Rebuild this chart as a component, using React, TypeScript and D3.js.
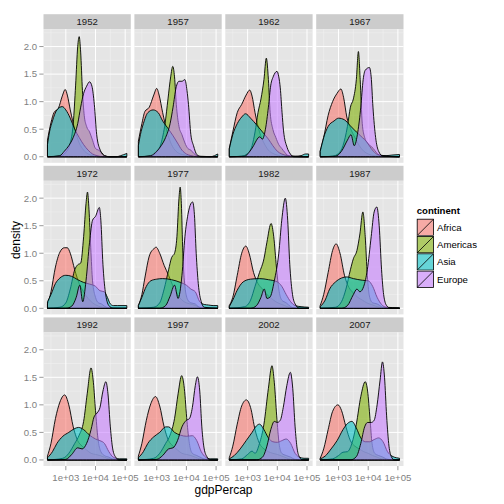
import React from "react";
import * as d3 from "d3";

// ---- data (x = log10(gdpPercap), y = density) ----
const years = ["1952", "1957", "1962", "1967", "1972", "1977", "1982", "1987", "1992", "1997", "2002", "2007"];
const continents = ["Africa", "Americas", "Asia", "Europe"];
const continentColors = ["#F8766D", "#7CAE00", "#00BFC4", "#C77CFF"];
const yTicks = [0, 0.5, 1, 1.5, 2];
const yTickLabels = ["0.0", "0.5", "1.0", "1.5", "2.0"];
const yMinor = [0.25, 0.75, 1.25, 1.75, 2.25];
const xTicks = [1e3, 1e4, 1e5];
const xTickLabels = ["1e+03", "1e+04", "1e+05"];
const xMinor = [316.23, 3162.3, 31623];

const africaCurves: number[][][] = [
  [[2.382,0.3],[2.5,0.62],[2.6,0.8],[2.75,0.88],[2.88,1.1],[2.98,1.22],[3.05,1.12],[3.15,0.85],[3.3,0.5],[3.45,0.25],[3.6,0.12],[3.75,0.05],[3.9,0.02],[4.1,0],[5.055,0]],
  [[2.382,0.28],[2.5,0.6],[2.6,0.82],[2.75,0.9],[2.9,1.12],[3.0,1.24],[3.08,1.12],[3.2,0.8],[3.35,0.45],[3.5,0.22],[3.65,0.1],[3.8,0.05],[3.95,0.03],[4.1,0.01],[5.055,0]],
  [[2.382,0.15],[2.5,0.45],[2.65,0.8],[2.8,0.95],[2.95,1.12],[3.07,1.21],[3.15,1.1],[3.25,0.8],[3.4,0.45],[3.55,0.25],[3.7,0.12],[3.85,0.06],[4.0,0.03],[4.2,0.01],[5.055,0]],
  [[2.382,0.1],[2.5,0.35],[2.65,0.75],[2.8,1.0],[2.95,1.15],[3.08,1.23],[3.17,1.08],[3.28,0.72],[3.4,0.52],[3.55,0.35],[3.7,0.2],[3.85,0.1],[4.0,0.05],[4.2,0.02],[5.055,0]],
  [[2.382,0.08],[2.5,0.3],[2.65,0.75],[2.8,1.02],[2.95,1.1],[3.05,1.1],[3.15,1.0],[3.3,0.7],[3.45,0.45],[3.6,0.3],[3.75,0.18],[3.9,0.1],[4.1,0.04],[4.4,0.01],[5.055,0]],
  [[2.382,0.05],[2.5,0.25],[2.6,0.55],[2.75,0.95],[2.9,1.08],[2.98,1.11],[3.1,1.0],[3.25,0.78],[3.4,0.6],[3.55,0.4],[3.7,0.25],[3.85,0.15],[4.0,0.1],[4.2,0.07],[4.35,0.04],[4.5,0.01],[5.055,0]],
  [[2.382,0.05],[2.5,0.2],[2.65,0.6],[2.8,1.0],[2.94,1.13],[3.05,1.0],[3.2,0.65],[3.35,0.45],[3.5,0.35],[3.65,0.25],[3.8,0.18],[3.95,0.12],[4.1,0.08],[4.25,0.05],[4.4,0.02],[5.055,0]],
  [[2.382,0.05],[2.5,0.25],[2.65,0.65],[2.8,1.05],[2.92,1.17],[3.05,1.0],[3.2,0.6],[3.35,0.38],[3.5,0.28],[3.65,0.2],[3.8,0.15],[3.95,0.1],[4.1,0.07],[4.25,0.04],[4.4,0.02],[5.055,0]],
  [[2.382,0.07],[2.5,0.3],[2.65,0.75],[2.8,1.05],[2.96,1.18],[3.1,1.0],[3.25,0.6],[3.4,0.35],[3.55,0.25],[3.7,0.18],[3.85,0.12],[4.0,0.1],[4.15,0.08],[4.3,0.05],[4.45,0.02],[5.055,0]],
  [[2.382,0.07],[2.5,0.3],[2.65,0.72],[2.8,1.02],[2.96,1.15],[3.1,0.98],[3.25,0.6],[3.4,0.35],[3.55,0.25],[3.7,0.18],[3.85,0.12],[4.0,0.1],[4.15,0.08],[4.3,0.05],[4.45,0.02],[5.055,0]],
  [[2.382,0.04],[2.5,0.25],[2.65,0.65],[2.8,0.98],[2.96,1.09],[3.1,0.95],[3.25,0.55],[3.4,0.3],[3.55,0.2],[3.7,0.15],[3.85,0.12],[4.0,0.1],[4.15,0.07],[4.3,0.04],[4.45,0.01],[5.055,0]],
  [[2.382,0.03],[2.5,0.2],[2.65,0.55],[2.8,0.88],[2.98,1.0],[3.1,0.9],[3.25,0.6],[3.4,0.35],[3.55,0.25],[3.7,0.2],[3.85,0.15],[4.0,0.12],[4.15,0.08],[4.3,0.05],[4.45,0.02],[5.055,0]],
];

const americasCurves: number[][][] = [
  [[2.382,0],[2.8,0.01],[3.0,0.08],[3.15,0.25],[3.25,0.6],[3.33,1.3],[3.4,2.0],[3.45,2.18],[3.5,1.9],[3.56,1.2],[3.62,0.75],[3.7,0.55],[3.8,0.45],[3.9,0.3],[4.0,0.15],[4.1,0.12],[4.2,0.08],[4.3,0.02],[4.5,0],[5.055,0]],
  [[2.382,0],[2.8,0.01],[3.0,0.08],[3.15,0.25],[3.28,0.6],[3.38,1.05],[3.47,1.45],[3.54,1.64],[3.6,1.45],[3.66,0.95],[3.75,0.55],[3.85,0.4],[3.95,0.25],[4.05,0.15],[4.15,0.12],[4.25,0.06],[4.4,0.01],[5.055,0]],
  [[2.382,0],[2.8,0.01],[3.0,0.06],[3.15,0.2],[3.25,0.45],[3.35,0.8],[3.45,1.05],[3.55,1.4],[3.63,1.79],[3.7,1.4],[3.76,0.8],[3.85,0.5],[3.95,0.35],[4.05,0.22],[4.15,0.15],[4.25,0.08],[4.4,0.01],[5.055,0]],
  [[2.382,0],[2.8,0.01],[3.0,0.06],[3.15,0.2],[3.3,0.55],[3.4,0.9],[3.5,1.05],[3.6,1.4],[3.67,1.91],[3.73,1.4],[3.8,0.6],[3.88,0.35],[3.97,0.25],[4.07,0.2],[4.17,0.15],[4.27,0.08],[4.4,0.02],[5.055,0]],
  [[2.382,0],[2.8,0.02],[3.0,0.1],[3.15,0.35],[3.3,0.7],[3.4,0.79],[3.5,0.82],[3.6,1.3],[3.68,1.9],[3.73,2.11],[3.78,1.8],[3.84,1.1],[3.9,0.5],[4.0,0.2],[4.1,0.1],[4.2,0.08],[4.3,0.04],[4.5,0],[5.055,0]],
  [[2.382,0],[2.9,0.02],[3.1,0.1],[3.25,0.35],[3.4,0.7],[3.5,0.92],[3.6,1.0],[3.68,1.3],[3.75,2.0],[3.79,2.2],[3.83,1.9],[3.88,1.0],[3.95,0.4],[4.05,0.15],[4.15,0.1],[4.3,0.08],[4.4,0.03],[4.6,0],[5.055,0]],
  [[2.382,0],[2.9,0.03],[3.1,0.15],[3.25,0.4],[3.4,0.65],[3.55,0.9],[3.65,1.2],[3.79,1.54],[3.88,1.3],[3.97,0.75],[4.05,0.35],[4.15,0.15],[4.3,0.1],[4.45,0.03],[4.6,0],[5.055,0]],
  [[2.382,0],[2.9,0.02],[3.1,0.12],[3.25,0.35],[3.4,0.7],[3.5,0.9],[3.62,1.05],[3.72,1.35],[3.82,1.75],[3.9,1.3],[3.97,0.6],[4.05,0.2],[4.15,0.1],[4.3,0.08],[4.45,0.03],[4.6,0],[5.055,0]],
  [[2.382,0],[2.9,0.03],[3.1,0.12],[3.3,0.3],[3.45,0.45],[3.6,0.7],[3.72,1.2],[3.85,1.67],[3.93,1.4],[4.0,0.9],[4.08,0.4],[4.18,0.15],[4.3,0.08],[4.45,0.05],[4.6,0.01],[5.055,0]],
  [[2.382,0],[2.9,0.03],[3.1,0.12],[3.3,0.3],[3.45,0.45],[3.6,0.75],[3.72,1.2],[3.84,1.53],[3.93,1.3],[4.02,0.7],[4.1,0.3],[4.2,0.12],[4.35,0.08],[4.5,0.04],[4.65,0.01],[5.055,0]],
  [[2.382,0],[2.8,0.02],[3.0,0.1],[3.15,0.16],[3.25,0.12],[3.4,0.3],[3.55,0.65],[3.7,1.3],[3.82,1.71],[3.9,1.4],[3.98,0.8],[4.06,0.3],[4.15,0.12],[4.3,0.08],[4.45,0.05],[4.6,0.01],[5.055,0]],
  [[2.382,0],[2.8,0.02],[3.0,0.08],[3.15,0.14],[3.3,0.15],[3.45,0.3],[3.6,0.65],[3.75,1.15],[3.9,1.42],[3.98,1.25],[4.06,0.75],[4.13,0.3],[4.22,0.12],[4.35,0.08],[4.5,0.05],[4.65,0.01],[5.055,0]],
];

const asiaCurves: number[][][] = [
  [[2.382,0.22],[2.45,0.45],[2.55,0.65],[2.7,0.85],[2.88,0.91],[3.0,0.85],[3.15,0.7],[3.3,0.5],[3.45,0.35],[3.6,0.22],[3.75,0.12],[3.9,0.05],[4.05,0.02],[4.3,0],[4.7,0],[4.85,0.02],[5.055,0.06]],
  [[2.382,0.2],[2.45,0.4],[2.55,0.6],[2.7,0.8],[2.88,0.85],[3.05,0.8],[3.2,0.65],[3.4,0.5],[3.55,0.38],[3.7,0.25],[3.85,0.12],[4.0,0.05],[4.15,0.02],[4.4,0],[4.8,0],[4.95,0.02],[5.055,0.05]],
  [[2.382,0.14],[2.5,0.4],[2.65,0.6],[2.8,0.72],[2.93,0.78],[3.1,0.7],[3.3,0.58],[3.5,0.45],[3.7,0.32],[3.85,0.2],[4.0,0.1],[4.15,0.05],[4.35,0.02],[4.6,0.01],[4.8,0.02],[4.95,0.05],[5.055,0.05]],
  [[2.382,0.1],[2.5,0.35],[2.65,0.55],[2.85,0.65],[3.0,0.7],[3.2,0.67],[3.4,0.56],[3.6,0.45],[3.8,0.35],[3.95,0.27],[4.1,0.15],[4.25,0.06],[4.4,0.03],[4.6,0.02],[4.8,0.03],[5.055,0.04]],
  [[2.382,0.12],[2.5,0.25],[2.65,0.45],[2.8,0.55],[3.0,0.6],[3.2,0.58],[3.4,0.52],[3.6,0.47],[3.8,0.44],[4.0,0.4],[4.15,0.32],[4.3,0.3],[4.4,0.2],[4.5,0.08],[4.6,0.05],[4.75,0.05],[5.055,0.05]],
  [[2.382,0.05],[2.5,0.2],[2.65,0.4],[2.8,0.5],[3.0,0.53],[3.2,0.54],[3.5,0.52],[3.8,0.47],[4.0,0.42],[4.15,0.35],[4.3,0.3],[4.45,0.12],[4.6,0.07],[4.75,0.06],[4.9,0.05],[5.055,0.05]],
  [[2.382,0.03],[2.5,0.15],[2.65,0.33],[2.85,0.48],[3.1,0.53],[3.4,0.54],[3.7,0.52],[4.0,0.48],[4.15,0.4],[4.3,0.25],[4.45,0.12],[4.6,0.05],[4.8,0.03],[5.055,0.02]],
  [[2.382,0.03],[2.55,0.15],[2.7,0.35],[2.9,0.48],[3.1,0.55],[3.28,0.57],[3.5,0.54],[3.8,0.51],[4.0,0.5],[4.15,0.4],[4.3,0.2],[4.45,0.07],[4.6,0.02],[5.055,0.01]],
  [[2.382,0.04],[2.55,0.15],[2.7,0.3],[2.9,0.43],[3.1,0.5],[3.3,0.57],[3.43,0.59],[3.6,0.55],[3.8,0.45],[4.0,0.38],[4.15,0.35],[4.3,0.3],[4.45,0.15],[4.6,0.05],[4.8,0.02],[5.055,0.02]],
  [[2.382,0.04],[2.55,0.15],[2.7,0.3],[2.9,0.42],[3.1,0.5],[3.3,0.6],[3.4,0.6],[3.6,0.5],[3.8,0.45],[4.0,0.43],[4.2,0.44],[4.35,0.35],[4.5,0.15],[4.65,0.05],[4.8,0.02],[5.055,0.02]],
  [[2.382,0.02],[2.55,0.08],[2.75,0.2],[2.95,0.35],[3.15,0.5],[3.3,0.62],[3.4,0.65],[3.55,0.55],[3.7,0.4],[3.85,0.33],[4.0,0.32],[4.15,0.35],[4.3,0.38],[4.45,0.3],[4.6,0.12],[4.75,0.05],[4.9,0.03],[5.055,0.03]],
  [[2.382,0.02],[2.55,0.07],[2.75,0.2],[2.95,0.35],[3.15,0.55],[3.3,0.66],[3.45,0.7],[3.6,0.58],[3.75,0.4],[3.9,0.33],[4.05,0.33],[4.2,0.37],[4.35,0.4],[4.5,0.33],[4.65,0.15],[4.8,0.07],[4.95,0.04],[5.055,0.03]],
];

const europeCurves: number[][][] = [
  [[2.382,0],[2.8,0.02],[2.95,0.1],[3.1,0.2],[3.25,0.35],[3.4,0.6],[3.5,0.9],[3.6,1.15],[3.7,1.28],[3.8,1.36],[3.88,1.28],[3.96,0.95],[4.04,0.4],[4.16,0.12],[4.3,0.02],[4.45,0],[5.055,0]],
  [[2.382,0],[2.8,0.02],[3.0,0.1],[3.15,0.2],[3.3,0.35],[3.45,0.6],[3.55,0.9],[3.65,1.25],[3.75,1.37],[3.85,1.37],[3.95,1.4],[4.02,1.2],[4.07,0.95],[4.15,0.4],[4.24,0.2],[4.35,0.04],[4.5,0],[5.055,0]],
  [[2.382,0],[2.9,0.01],[3.05,0.08],[3.2,0.2],[3.3,0.3],[3.4,0.36],[3.5,0.32],[3.6,0.5],[3.7,0.9],[3.78,1.3],[3.86,1.45],[3.99,1.55],[4.05,1.45],[4.1,1.25],[4.16,0.8],[4.21,0.47],[4.33,0.17],[4.44,0.05],[4.55,0],[5.055,0]],
  [[2.382,0],[2.9,0.01],[3.1,0.1],[3.3,0.3],[3.42,0.4],[3.53,0.2],[3.65,0.45],[3.75,0.9],[3.83,1.4],[3.9,1.57],[4.04,1.62],[4.1,1.45],[4.16,0.9],[4.25,0.35],[4.35,0.1],[4.5,0.01],[5.055,0]],
  [[2.382,0],[3.0,0],[3.2,0.04],[3.35,0.2],[3.47,0.42],[3.57,0.12],[3.68,0.5],[3.8,1.2],[3.9,1.6],[4.0,1.67],[4.13,1.83],[4.18,1.6],[4.25,0.8],[4.33,0.3],[4.45,0.05],[4.6,0],[5.055,0]],
  [[2.382,0],[3.1,0],[3.3,0.05],[3.45,0.22],[3.6,0.42],[3.72,0.18],[3.85,0.6],[3.95,1.3],[4.05,1.7],[4.15,1.9],[4.21,1.93],[4.27,1.7],[4.33,1.0],[4.4,0.45],[4.5,0.12],[4.6,0.02],[5.055,0]],
  [[2.382,0],[3.1,0],[3.3,0.05],[3.45,0.2],[3.56,0.35],[3.65,0.18],[3.75,0.2],[3.9,0.5],[4.05,1.0],[4.15,1.6],[4.27,2.0],[4.35,1.6],[4.42,0.8],[4.5,0.3],[4.6,0.08],[4.75,0],[5.055,0]],
  [[2.382,0],[3.1,0],[3.3,0.05],[3.5,0.25],[3.62,0.35],[3.72,0.3],[3.85,0.4],[3.97,0.7],[4.1,1.3],[4.2,1.75],[4.29,1.84],[4.37,1.5],[4.45,0.7],[4.52,0.25],[4.62,0.05],[4.75,0],[5.055,0]],
  [[2.382,0],[3.0,0.01],[3.2,0.1],[3.4,0.22],[3.55,0.2],[3.7,0.3],[3.85,0.55],[3.95,0.78],[4.05,0.85],[4.15,0.95],[4.25,1.25],[4.35,1.42],[4.42,1.2],[4.5,0.6],[4.58,0.2],[4.68,0.05],[4.8,0],[5.055,0]],
  [[2.382,0],[3.0,0.01],[3.2,0.08],[3.4,0.2],[3.55,0.22],[3.7,0.35],[3.85,0.6],[4.0,0.72],[4.1,0.75],[4.2,0.95],[4.3,1.35],[4.37,1.51],[4.45,1.25],[4.52,0.6],[4.6,0.2],[4.7,0.05],[4.8,0],[5.055,0]],
  [[2.382,0],[3.3,0],[3.5,0.05],[3.65,0.25],[3.78,0.55],[3.9,0.7],[4.0,0.68],[4.1,0.72],[4.2,0.95],[4.32,1.35],[4.44,1.59],[4.52,1.3],[4.6,0.6],[4.67,0.2],[4.75,0.05],[4.85,0],[5.055,0]],
  [[2.382,0],[3.4,0],[3.6,0.06],[3.75,0.3],[3.88,0.6],[3.98,0.68],[4.1,0.68],[4.2,0.72],[4.3,1.0],[4.4,1.45],[4.48,1.78],[4.55,1.5],[4.62,0.8],[4.7,0.25],[4.78,0.06],[4.88,0],[5.055,0]],
];

const allCurves = [africaCurves, americasCurves, asiaCurves, europeCurves];

// ---- layout ----
const FONT = "'Liberation Sans', Arial, Helvetica, sans-serif";
const PANEL_X0 = 43.5;
const PANEL_DX = 90.9;
const PANEL_W = 87.3;
const PANEL_Y0 = 29.2;
const PANEL_DY = 151.6;
const PANEL_H = 133.6;
const STRIP_H = 15;
const FILL_OPACITY = 0.58;

const x = d3.scaleLog().domain([Math.pow(10, 2.248), Math.pow(10, 5.189)]).range([0, PANEL_W]);
const y = d3.scaleLinear().domain([-0.11, 2.315]).range([PANEL_H, 0]);

const area = d3
  .area<number[]>()
  .x((p) => x(Math.pow(10, p[0])))
  .y0(() => y(0))
  .y1((p) => y(p[1]))
  .curve(d3.curveMonotoneX);

function Panel({ idx }: { idx: number }) {
  const col = idx % 4;
  const row = Math.floor(idx / 4);
  const left = PANEL_X0 + col * PANEL_DX;
  const top = PANEL_Y0 + row * PANEL_DY;
  return (
    <g transform={`translate(${left},${top})`}>
      <rect x={0} y={-STRIP_H} width={PANEL_W} height={STRIP_H} fill="#CCCCCC" />
      <text x={PANEL_W / 2} y={-STRIP_H / 2} dy="0.35em" textAnchor="middle" fontSize={9.6} fill="#1A1A1A" fontFamily={FONT}>
        {years[idx]}
      </text>
      <rect x={0} y={0} width={PANEL_W} height={PANEL_H} fill="#E5E5E5" />
      {yMinor.map((v) => (
        <line key={"ym" + v} x1={0} x2={PANEL_W} y1={y(v)} y2={y(v)} stroke="#F2F2F2" strokeWidth={0.5} />
      ))}
      {xMinor.map((v) => (
        <line key={"xm" + v} x1={x(v)} x2={x(v)} y1={0} y2={PANEL_H} stroke="#F2F2F2" strokeWidth={0.5} />
      ))}
      {yTicks.map((v) => (
        <line key={"yM" + v} x1={0} x2={PANEL_W} y1={y(v)} y2={y(v)} stroke="#FFFFFF" strokeWidth={1} />
      ))}
      {xTicks.map((v) => (
        <line key={"xM" + v} x1={x(v)} x2={x(v)} y1={0} y2={PANEL_H} stroke="#FFFFFF" strokeWidth={1} />
      ))}
      {allCurves.map((curves, ci) => (
        <path
          key={continents[ci]}
          d={area(curves[idx]) || ""}
          fill={continentColors[ci]}
          fillOpacity={FILL_OPACITY}
          stroke="#000000"
          strokeWidth={0.9}
          strokeLinejoin="round"
        />
      ))}
      {col === 0 &&
        yTicks.map((v, i) => (
          <g key={"yt" + v}>
            <line x1={-4.2} x2={0} y1={y(v)} y2={y(v)} stroke="#7F7F7F" strokeWidth={0.8} />
            <text x={-6.5} y={y(v)} dy="0.35em" textAnchor="end" fontSize={9.6} fill="#7F7F7F" fontFamily={FONT}>
              {yTickLabels[i]}
            </text>
          </g>
        ))}
      {row === 2 &&
        xTicks.map((v, i) => (
          <g key={"xt" + v}>
            <line x1={x(v)} x2={x(v)} y1={PANEL_H} y2={PANEL_H + 4.2} stroke="#7F7F7F" strokeWidth={0.8} />
            <text x={x(v)} y={PANEL_H + 14.6} textAnchor="middle" fontSize={9.6} fill="#7F7F7F" fontFamily={FONT}>
              {xTickLabels[i]}
            </text>
          </g>
        ))}
    </g>
  );
}

function Legend() {
  const lx = 416.7;
  const ly = 218.7;
  const k = 17.3;
  return (
    <g>
      <text x={lx} y={214} fontSize={9.6} fontWeight="bold" fill="#000" fontFamily={FONT}>
        continent
      </text>
      {continents.map((c, i) => (
        <g key={c} transform={`translate(${lx},${ly + i * k})`}>
          <rect x={0} y={0} width={k} height={k} fill="#F2F2F2" stroke="#FFFFFF" strokeWidth={0.5} />
          <rect x={0.5} y={0.5} width={k - 1} height={k - 1} fill={continentColors[i]} fillOpacity={FILL_OPACITY} stroke="#000" strokeWidth={0.8} />
          <line x1={0.5} y1={k - 0.5} x2={k - 0.5} y2={0.5} stroke="#000" strokeWidth={0.8} />
          <text x={k + 3} y={k / 2} dy="0.35em" fontSize={9.6} fill="#000" fontFamily={FONT}>
            {c}
          </text>
        </g>
      ))}
    </g>
  );
}

export default function App() {
  const panelsRight = PANEL_X0 + 3 * PANEL_DX + PANEL_W;
  const panelsBottom = PANEL_Y0 + 2 * PANEL_DY + PANEL_H;
  return (
    <div style={{ position: "absolute", left: 0, top: 0 }}>
      <svg width={504} height={504} style={{ display: "block", background: "#FFFFFF" }}>
        <rect x={0} y={0} width={504} height={504} fill="#FFFFFF" />
        {years.map((_, i) => (
          <Panel key={i} idx={i} />
        ))}
        <text
          transform={`translate(20,${(PANEL_Y0 - STRIP_H + panelsBottom) / 2}) rotate(-90)`}
          textAnchor="middle"
          fontSize={12}
          fill="#000"
          fontFamily={FONT}
        >
          density
        </text>
        <text x={(PANEL_X0 + panelsRight) / 2} y={494} textAnchor="middle" fontSize={12} fill="#000" fontFamily={FONT}>
          gdpPercap
        </text>
        <Legend />
      </svg>
    </div>
  );
}
